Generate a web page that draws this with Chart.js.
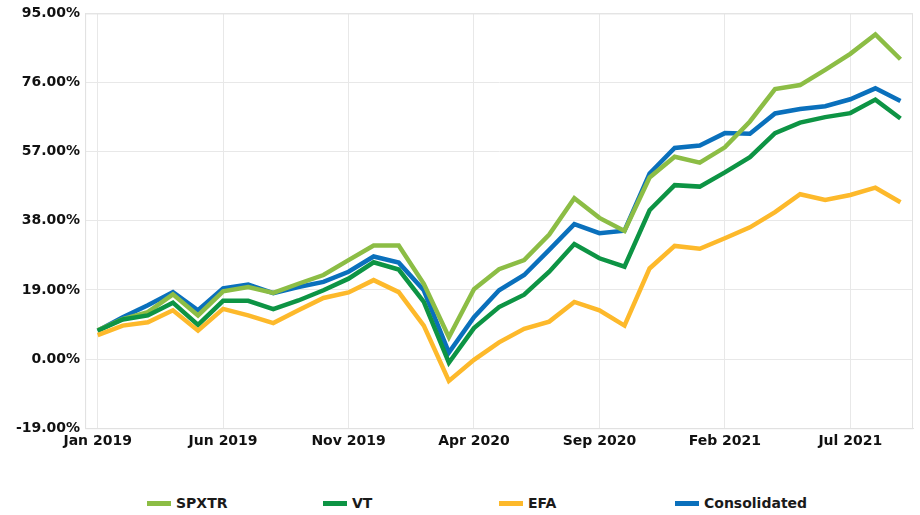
<!DOCTYPE html>
<html>
<head>
<meta charset="utf-8">
<script src="https://cdn.jsdelivr.net/npm/chart.js@4.4.1/dist/chart.umd.min.js"></script>
<style>
    html, body { margin: 0; padding: 0; background: #fff; }
    #wrap { position: relative; width: 920px; height: 515px; }
    #chartBox { position: absolute; left: 0; top: 0; width: 920px; height: 455px; }
    #legend { position: absolute; left: 147px; top: 495px; display: flex; }
    .item { width: 176px; display: flex; align-items: center;
            font: bold 14px 'DejaVu Sans', sans-serif; color: #1a1a1a; }
    .swatch { width: 24px; height: 5px; margin-right: 5px; }
</style>
</head>
<body>
<div id="wrap">
    <div id="chartBox"><canvas id="perf"></canvas></div>
    <div id="legend"></div>
</div>
<script>
    'use strict';

    const months = [
        'Jan 2019', 'Feb 2019', 'Mar 2019', 'Apr 2019', 'May 2019', 'Jun 2019',
        'Jul 2019', 'Aug 2019', 'Sep 2019', 'Oct 2019', 'Nov 2019', 'Dec 2019',
        'Jan 2020', 'Feb 2020', 'Mar 2020', 'Apr 2020', 'May 2020', 'Jun 2020',
        'Jul 2020', 'Aug 2020', 'Sep 2020', 'Oct 2020', 'Nov 2020', 'Dec 2020',
        'Jan 2021', 'Feb 2021', 'Mar 2021', 'Apr 2021', 'May 2021', 'Jun 2021',
        'Jul 2021', 'Aug 2021', 'Sep 2021'
    ];

    const spxtr = [7.9, 11.0, 12.9, 17.8, 12.0, 18.6, 19.8, 18.2, 20.7, 23.1, 27.2, 31.2, 31.2, 20.7, 6.0,
        19.2, 24.7, 27.2, 34.2, 44.2, 38.8, 35.2, 49.9, 55.6, 54.0, 58.2, 65.3, 74.2, 75.3, 79.5, 83.9, 89.2, 82.4];
    const vt = [7.8, 10.9, 12.0, 15.5, 9.4, 16.0, 16.0, 13.7, 16.1, 18.9, 22.1, 26.6, 24.6, 15.7, -1.0,
        8.5, 14.3, 17.7, 24.0, 31.6, 27.7, 25.4, 40.9, 47.8, 47.4, 51.3, 55.5, 62.1, 65.0, 66.5, 67.6, 71.3, 66.1];
    const efa = [6.6, 9.2, 10.1, 13.4, 7.8, 13.8, 12.0, 9.9, 13.4, 16.8, 18.3, 21.7, 18.4, 9.2, -6.0,
        -0.2, 4.6, 8.3, 10.3, 15.7, 13.4, 9.2, 24.9, 31.1, 30.3, 33.2, 36.2, 40.4, 45.3, 43.7, 45.1, 47.1, 43.1];
    const consolidated = [7.8, 11.5, 14.8, 18.4, 13.4, 19.4, 20.5, 18.1, 19.8, 21.2, 24.0, 28.2, 26.5, 18.9, 1.8,
        11.5, 18.9, 23.1, 30.0, 37.1, 34.6, 35.3, 51.0, 58.0, 58.7, 62.1, 61.9, 67.5, 68.7, 69.5, 71.4, 74.4, 70.9];

    const seriesNames = ['SPXTR', 'VT', 'EFA', 'Consolidated'];
    const seriesColors = ['#8cbd45', '#0d9444', '#fdb92b', '#0a70bc'];
    const drawOrder = [2, 1, 0, 3]; // lower = drawn on top

    const yTicks = { min: -19, max: 95, step: 19 };

    const FONT = { family: "'DejaVu Sans', sans-serif", size: 14, weight: 'bold' };

    // frame round the plot area (top/right edges)
    const framePlugin = {
        id: 'frame',
        afterDraw(chart) {
            const { ctx, chartArea: a } = chart;
            ctx.save();
            ctx.strokeStyle = '#e2e2e2';
            ctx.lineWidth = 1;
            ctx.strokeRect(a.left + 0.5, a.top + 0.5, a.right - a.left - 1, a.bottom - a.top);
            ctx.restore();
        }
    };

    const data = [spxtr, vt, efa, consolidated];

    new Chart(document.getElementById('perf').getContext('2d'), {
        type: 'line',
        data: {
            labels: months,
            datasets: seriesNames.map((name, i) => ({
                label: name,
                data: data[i],
                borderColor: seriesColors[i],
                backgroundColor: seriesColors[i],
                borderWidth: 4.5,
                pointRadius: 0,
                tension: 0,
                order: drawOrder[i]
            }))
        },
        options: {
            responsive: true,
            maintainAspectRatio: false,
            animation: false,
            layout: { padding: { left: 11, right: 7, top: 5, bottom: 0 } },
            plugins: {
                legend: { display: false },
                tooltip: { enabled: false }
            },
            scales: {
                x: {
                    offset: true,
                    grid: { offset: false, color: '#e8e8e8', drawTicks: false },
                    border: { color: '#e2e2e2' },
                    ticks: {
                        autoSkip: false,
                        maxRotation: 0,
                        padding: 5,
                        color: '#111',
                        font: FONT,
                        callback(value, index) {
                            return index % 5 === 0 ? months[index] : null;
                        }
                    }
                },
                y: {
                    min: yTicks.min,
                    max: yTicks.max,
                    grid: { color: '#e8e8e8', drawTicks: false },
                    border: { color: '#e2e2e2' },
                    ticks: {
                        stepSize: yTicks.step,
                        padding: 5,
                        color: '#111',
                        font: FONT,
                        callback: v => v.toFixed(2) + '%'
                    }
                }
            }
        },
        plugins: [framePlugin]
    });

    // legend: equal-width slots, like the original
    const legendEl = document.getElementById('legend');
    seriesNames.forEach((name, i) => {
        const item = document.createElement('div');
        item.className = 'item';
        item.innerHTML = '<span class="swatch" style="background:' + seriesColors[i] + '"></span>' + name;
        legendEl.appendChild(item);
    });
</script>
</body>
</html>
